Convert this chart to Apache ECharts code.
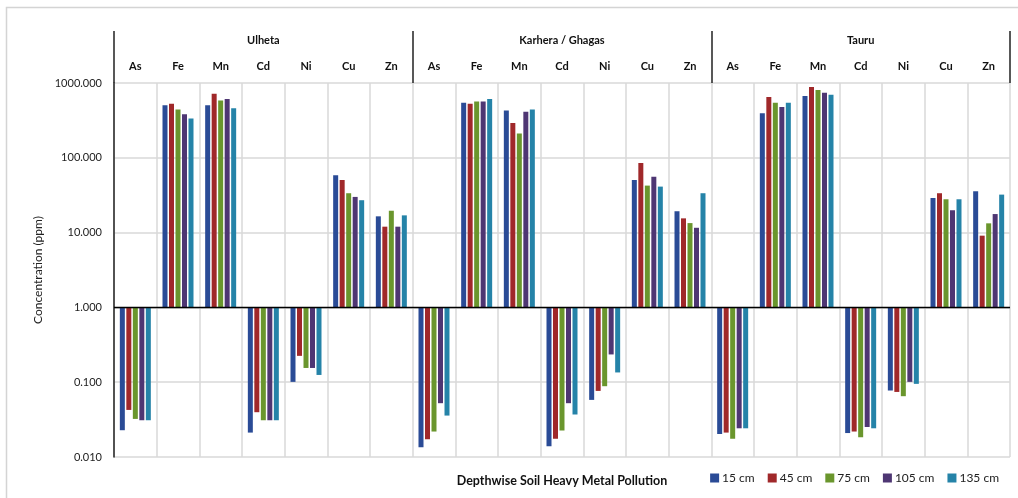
<!DOCTYPE html>
<html>
<head>
<meta charset="utf-8">
<script src="https://cdn.jsdelivr.net/npm/echarts@6/dist/echarts.min.js"></script>
<style>html,body{margin:0;padding:0;background:#fff;}#c{width:1018px;height:498px;}</style>
</head>
<body>
<div id="c"></div>
<script>
var sites = ['Ulheta', 'Karhera / Ghagas', 'Tauru'];
var metals = ['As', 'Fe', 'Mn', 'Cd', 'Ni', 'Cu', 'Zn'];
var depths = ['15 cm', '45 cm', '75 cm', '105 cm', '135 cm'];
var yTicks = [0.01, 0.1, 1, 10, 100, 1000];

var d15  = [0.0228, 506, 506, 0.0212, 0.101, 58.5, 16.5,  0.0135, 543, 428, 0.0139, 0.058, 50.6, 19.3,  0.0203, 395, 668, 0.0209, 0.0774, 29.0, 35.7];
var d45  = [0.0426, 527, 717, 0.0397, 0.225, 50.6, 12.0,  0.0173, 527, 291, 0.0176, 0.0765, 85.5, 15.5,  0.0212, 648, 881, 0.0219, 0.0741, 33.6, 9.1];
var d75  = [0.0323, 442, 583, 0.0310, 0.155, 33.6, 19.6,  0.0219, 565, 211, 0.0226, 0.0884, 42.5, 13.4,  0.0176, 543, 804, 0.0184, 0.065, 27.9, 13.3];
var d105 = [0.0310, 383, 609, 0.0310, 0.155, 30.0, 12.0,  0.0524, 565, 412, 0.0524, 0.235, 56.0, 11.6,  0.0242, 476, 739, 0.0252, 0.101, 19.9, 17.7];
var d135 = [0.0310, 335, 461, 0.0310, 0.125, 27.1, 17.0,  0.0358, 609, 442, 0.0370, 0.135, 41.2, 33.6,  0.0242, 543, 695, 0.0242, 0.095, 27.9, 32.2];

var seriesValues = [d15, d45, d75, d105, d135];
var colors = ['#2a4b96', '#a0282a', '#6a962d', '#4e3673', '#2583a8'];

var cats = [];
sites.forEach(function (s) { metals.forEach(function (m) { cats.push(s + '|' + m); }); });

var FONT = 'Lato, "Open Sans", sans-serif';
var chart = echarts.init(document.getElementById('c'), null, {renderer: 'canvas'});

var series = depths.map(function (name, i) {
  var s = {
    name: name,
    type: 'bar',
    xAxisIndex: 0,
    yAxisIndex: 0,
    barWidth: 5,
    barGap: '30%',
    itemStyle: {color: colors[i]},
    data: seriesValues[i],
    animation: false
  };
  if (i === 0) {
    s.markLine = {
      silent: true,
      symbol: ['none', 'none'],
      label: {show: false},
      lineStyle: {color: '#000', type: 'solid', width: 1.3},
      data: [{yAxis: 1}],
      animation: false
    };
  }
  return s;
});

chart.setOption({
  backgroundColor: '#fff',
  animation: false,
  textStyle: {fontFamily: FONT},
  graphic: [{
    type: 'rect', silent: true,
    shape: {x: 6.5, y: 7.5, width: 1030, height: 520},
    style: {fill: 'none', stroke: '#d4d4d4', lineWidth: 1.5}
  }],
  legend: {
    data: depths,
    right: 14,
    top: 467,
    itemWidth: 9,
    itemHeight: 9,
    itemGap: 13,
    icon: 'rect',
    textStyle: {fontSize: 12, color: '#222', fontFamily: FONT, padding: [0, 0, 0, -2]}
  },
  grid: {left: 114, right: 8, top: 83, bottom: 41, containLabel: false},
  xAxis: [{
    type: 'category',
    data: cats,
    position: 'bottom',
    axisLine: {show: false},
    axisTick: {show: false, interval: 0},
    axisLabel: {show: false, interval: 0},
    splitLine: {show: true, interval: 0, lineStyle: {color: '#d9d9d9', width: 1.5}},
    name: 'Depthwise Soil Heavy Metal Pollution',
    nameLocation: 'middle',
    nameGap: 17,
    nameTextStyle: {fontSize: 12.5, fontWeight: 'bold', color: '#111', fontFamily: FONT}
  }, {
    type: 'category',
    data: cats,
    position: 'top',
    axisLine: {show: false},
    axisTick: {show: false},
    splitLine: {show: false},
    axisLabel: {
      interval: 0, margin: 11, fontSize: 11, fontWeight: 'bold', color: '#111', fontFamily: FONT,
      formatter: function (v) { return v.split('|')[1]; }
    }
  }, {
    type: 'category',
    data: sites,
    position: 'top',
    axisLine: {show: false},
    axisTick: {show: true, interval: 0, length: 52, lineStyle: {color: '#222', width: 1.5}},
    splitLine: {show: false},
    axisLabel: {interval: 0, margin: 37, fontSize: 11, fontWeight: 'bold', color: '#111', fontFamily: FONT}
  }],
  yAxis: [{
    type: 'log',
    logBase: 10,
    min: yTicks[0],
    max: yTicks[yTicks.length - 1],
    splitNumber: yTicks.length - 1,
    axisLine: {show: true, lineStyle: {color: '#222', width: 1.5}},
    axisTick: {show: false},
    splitLine: {show: true, lineStyle: {color: '#d9d9d9', width: 1.5}},
    axisLabel: {
      margin: 12, fontSize: 11, color: '#222', fontFamily: FONT,
      formatter: function (v) { return Number(v).toFixed(3); }
    },
    name: 'Concentration (ppm)',
    nameLocation: 'middle',
    nameGap: 70,
    nameTextStyle: {fontSize: 12, color: '#222', fontFamily: FONT}
  }],
  series: series
});
</script>
</body>
</html>
